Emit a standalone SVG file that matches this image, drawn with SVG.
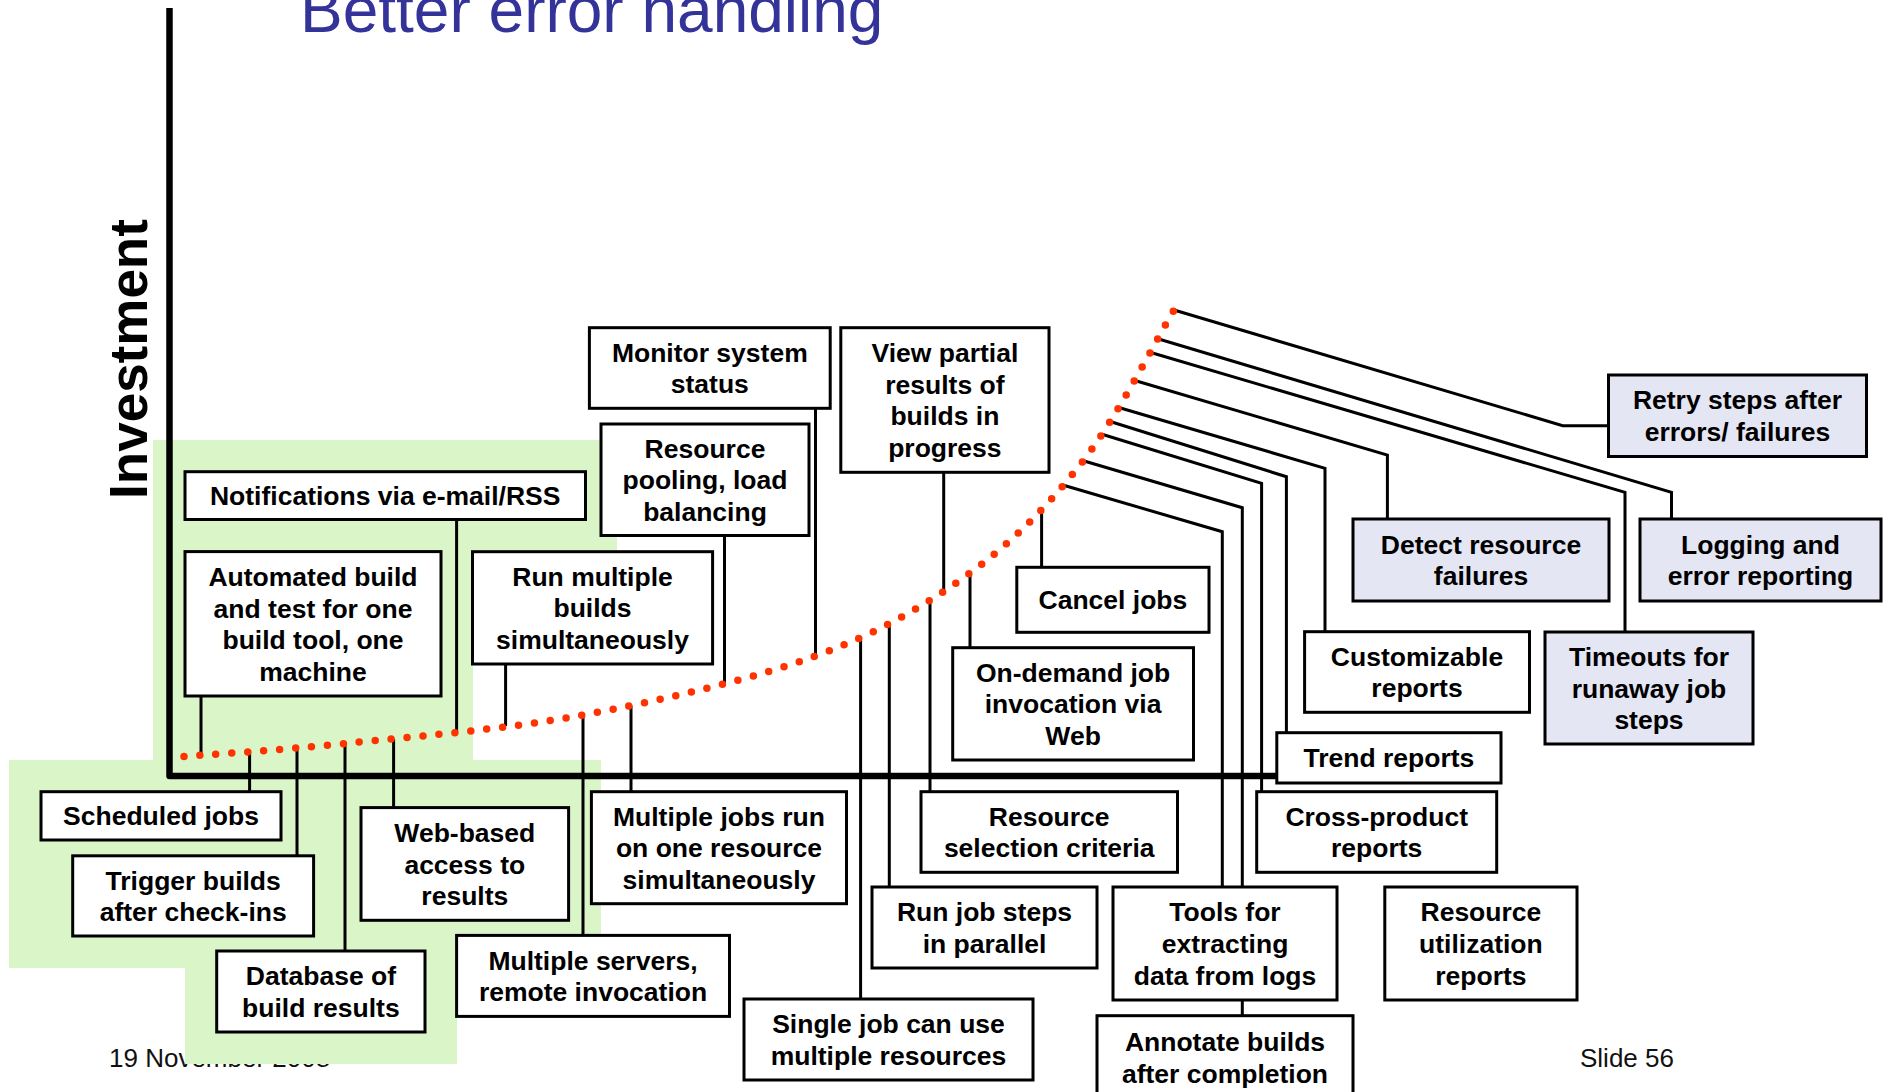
<svg xmlns="http://www.w3.org/2000/svg" width="1888" height="1092" viewBox="0 0 1888 1092">
  <style>
    .box { fill: #ffffff; stroke: #000000; stroke-width: 3; }
    .box.err { fill: #e4e6f4; }
    .lbl { font-family: "Liberation Sans", Arial, sans-serif; font-weight: bold; font-size: 26.5px; fill: #000000; text-anchor: middle; }
    .conn { fill: none; stroke: #000000; stroke-width: 3; }
    .foot { font-family: "Liberation Sans", Arial, sans-serif; font-size: 26px; fill: #111111; }
  </style>

  <rect x="0" y="0" width="1888" height="1092" fill="#ffffff"/>

  <!-- title, partly above the top edge -->
  <text x="300" y="32" font-family="'Liberation Sans', Arial, sans-serif" font-size="64" fill="#333399">Better error handling</text>

  <!-- footer date sits under the green band -->
  <text class="foot" x="109" y="1067">19 November 2008</text>
  <text class="foot" x="1580" y="1067">Slide 56</text>

  <!-- green band of basic features -->
  <path id="basic-zone" d="M153 440 H617 V551 H473 V760 H601 V968 H457 V1064 H185 V968 H9 V760 H153 Z" fill="#daf6c8"/>

  <!-- axes -->
  <path id="axes" d="M169.5 8 V776 H1280" fill="none" stroke="#000000" stroke-width="6.5" stroke-linejoin="round"/>
  <text transform="translate(146.5 359) rotate(-90)" font-family="'Liberation Sans', Arial, sans-serif" font-weight="bold" font-size="53" text-anchor="middle" fill="#000000">Investment</text>

  <!-- connectors from the curve to each feature box -->
  <g id="connectors" class="conn">
    <path d="M201 696 V755.5"/>
    <path d="M456.6 519.5 V732"/>
    <path d="M505.6 664 V726"/>
    <path d="M724.5 535.5 V684"/>
    <path d="M815.5 408.3 V656"/>
    <path d="M943.7 472.3 V592"/>
    <path d="M249.6 751 V791.7"/>
    <path d="M297 747.7 V855.8"/>
    <path d="M345 743.5 V951"/>
    <path d="M393.6 739 V807.6"/>
    <path d="M583 715 V935.4"/>
    <path d="M631 705.5 V791.7"/>
    <path d="M860.6 637 V999"/>
    <path d="M889.3 623 V887"/>
    <path d="M930 600 V791.7"/>
    <path d="M970 573 V647.7"/>
    <path d="M1041.6 510.7 V567.3"/>
    <path d="M1083.3 460.7 L1242.3 507.7 V1015.7"/>
    <path d="M1062.7 485 L1222.3 531.7 V887"/>
    <path d="M1102 434.3 L1261.6 483.3 V791.7"/>
    <path d="M1111 421.7 L1286.4 476.7 V732.7"/>
    <path d="M1119.6 407.7 L1325 468.3 V631.7"/>
    <path d="M1136.5 381 L1387.4 455 V519"/>
    <path d="M1151.6 352.7 L1625 492.3 V632"/>
    <path d="M1159.5 339.3 L1671.5 492.3 V519"/>
    <path d="M1174 310 L1562.7 425.7 H1608.5"/>
  </g>

  <!-- dotted investment curve -->
  <path id="curve" d="M184 756.5 C210.8 754.3 278.5 750.4 345 743.5 C411.5 736.6 504.6 729.6 583 715 C661.4 700.4 751 679.7 815.5 656 C880 632.3 925.4 605.6 970 573 C1014.6 540.4 1049.3 504.5 1083.3 460.7 C1117.3 416.9 1158.9 335.1 1174 310" fill="none" stroke="#ff3300" stroke-width="7.5" stroke-linecap="round" stroke-dasharray="0 16"/>

  <!-- feature boxes -->
  <g id="notifications"><rect class="box" x="185" y="471.7" width="400.5" height="47.8"/>
    <text class="lbl" x="385.2" y="505.1">Notifications via e-mail/RSS</text></g>
  <g id="automated-build"><rect class="box" x="185" y="551.6" width="256" height="144.4"/>
    <text class="lbl"><tspan x="313" y="585.8">Automated build</tspan><tspan x="313" y="617.5">and test for one</tspan><tspan x="313" y="649.2">build tool, one</tspan><tspan x="313" y="680.9">machine</tspan></text></g>
  <g id="run-multiple-builds"><rect class="box" x="472.5" y="551.7" width="240.1" height="112.3"/>
    <text class="lbl"><tspan x="592.5" y="585.7">Run multiple</tspan><tspan x="592.5" y="617.4">builds</tspan><tspan x="592.5" y="649.1">simultaneously</tspan></text></g>
  <g id="monitor-status"><rect class="box" x="589.4" y="327.7" width="240.8" height="80.6"/>
    <text class="lbl"><tspan x="709.8" y="361.7">Monitor system</tspan><tspan x="709.8" y="393.4">status</tspan></text></g>
  <g id="resource-pooling"><rect class="box" x="601" y="424" width="208" height="111.5"/>
    <text class="lbl"><tspan x="705" y="457.6">Resource</tspan><tspan x="705" y="489.3">pooling, load</tspan><tspan x="705" y="521">balancing</tspan></text></g>
  <g id="view-partial"><rect class="box" x="840.8" y="327.7" width="208.2" height="144.6"/>
    <text class="lbl"><tspan x="944.9" y="362">View partial</tspan><tspan x="944.9" y="393.7">results of</tspan><tspan x="944.9" y="425.4">builds in</tspan><tspan x="944.9" y="457.1">progress</tspan></text></g>
  <g id="cancel-jobs"><rect class="box" x="1016.8" y="567.3" width="192.2" height="65"/>
    <text class="lbl" x="1112.9" y="609.3">Cancel jobs</text></g>
  <g id="on-demand"><rect class="box" x="952.7" y="647.7" width="240.8" height="112.3"/>
    <text class="lbl"><tspan x="1073.1" y="681.7">On-demand job</tspan><tspan x="1073.1" y="713.4">invocation via</tspan><tspan x="1073.1" y="745.1">Web</tspan></text></g>
  <g id="scheduled-jobs"><rect class="box" x="41" y="791.7" width="240" height="48.3"/>
    <text class="lbl" x="161" y="825.4">Scheduled jobs</text></g>
  <g id="trigger-builds"><rect class="box" x="72.7" y="855.8" width="240.9" height="80.2"/>
    <text class="lbl"><tspan x="193.2" y="889.6">Trigger builds</tspan><tspan x="193.2" y="921.3">after check-ins</tspan></text></g>
  <g id="web-access"><rect class="box" x="361" y="807.6" width="207.6" height="112.7"/>
    <text class="lbl"><tspan x="464.8" y="841.8">Web-based</tspan><tspan x="464.8" y="873.5">access to</tspan><tspan x="464.8" y="905.2">results</tspan></text></g>
  <g id="build-database"><rect class="box" x="216.7" y="951" width="208.3" height="81"/>
    <text class="lbl"><tspan x="320.9" y="985.2">Database of</tspan><tspan x="320.9" y="1016.9">build results</tspan></text></g>
  <g id="multiple-servers"><rect class="box" x="456.6" y="935.4" width="272.9" height="81"/>
    <text class="lbl"><tspan x="593" y="969.6">Multiple servers,</tspan><tspan x="593" y="1001.3">remote invocation</tspan></text></g>
  <g id="jobs-one-resource"><rect class="box" x="591.4" y="791.7" width="255.1" height="112"/>
    <text class="lbl"><tspan x="719" y="825.5">Multiple jobs run</tspan><tspan x="719" y="857.2">on one resource</tspan><tspan x="719" y="888.9">simultaneously</tspan></text></g>
  <g id="single-job-multi-resource"><rect class="box" x="744" y="999" width="289" height="81"/>
    <text class="lbl"><tspan x="888.5" y="1033.2">Single job can use</tspan><tspan x="888.5" y="1064.9">multiple resources</tspan></text></g>
  <g id="parallel-steps"><rect class="box" x="872" y="887" width="225" height="81"/>
    <text class="lbl"><tspan x="984.5" y="921.2">Run job steps</tspan><tspan x="984.5" y="952.9">in parallel</tspan></text></g>
  <g id="resource-selection"><rect class="box" x="921" y="791.7" width="256.5" height="80.6"/>
    <text class="lbl"><tspan x="1049.2" y="825.7">Resource</tspan><tspan x="1049.2" y="857.4">selection criteria</tspan></text></g>
  <g id="log-tools"><rect class="box" x="1113" y="887" width="224" height="113"/>
    <text class="lbl"><tspan x="1225" y="921.3">Tools for</tspan><tspan x="1225" y="953">extracting</tspan><tspan x="1225" y="984.7">data from logs</tspan></text></g>
  <g id="annotate-builds"><rect class="box" x="1097" y="1015.7" width="256" height="84"/>
    <text class="lbl"><tspan x="1225" y="1051.2">Annotate builds</tspan><tspan x="1225" y="1082.9">after completion</tspan></text></g>
  <g id="cross-product"><rect class="box" x="1256.7" y="791.7" width="240" height="80.6"/>
    <text class="lbl"><tspan x="1376.7" y="825.7">Cross-product</tspan><tspan x="1376.7" y="857.4">reports</tspan></text></g>
  <g id="trend-reports"><rect class="box" x="1276.8" y="732.7" width="224.2" height="50.3"/>
    <text class="lbl" x="1388.9" y="767.4">Trend reports</text></g>
  <g id="custom-reports"><rect class="box" x="1304.6" y="631.7" width="224.9" height="80.6"/>
    <text class="lbl"><tspan x="1417" y="665.7">Customizable</tspan><tspan x="1417" y="697.4">reports</tspan></text></g>
  <g id="utilization-reports"><rect class="box" x="1384.8" y="887" width="192.2" height="113"/>
    <text class="lbl"><tspan x="1480.9" y="921.3">Resource</tspan><tspan x="1480.9" y="953">utilization</tspan><tspan x="1480.9" y="984.7">reports</tspan></text></g>

  <!-- error-handling features -->
  <g id="detect-failures"><rect class="box err" x="1353" y="519" width="256" height="82"/>
    <text class="lbl"><tspan x="1481" y="553.7">Detect resource</tspan><tspan x="1481" y="585.4">failures</tspan></text></g>
  <g id="logging"><rect class="box err" x="1640" y="519" width="241" height="82"/>
    <text class="lbl"><tspan x="1760.5" y="553.7">Logging and</tspan><tspan x="1760.5" y="585.4">error reporting</tspan></text></g>
  <g id="timeouts"><rect class="box err" x="1545" y="632" width="208" height="112"/>
    <text class="lbl"><tspan x="1649" y="665.8">Timeouts for</tspan><tspan x="1649" y="697.5">runaway job</tspan><tspan x="1649" y="729.2">steps</tspan></text></g>
  <g id="retry-steps"><rect class="box err" x="1608.5" y="375" width="258" height="81.5"/>
    <text class="lbl"><tspan x="1737.5" y="409.4">Retry steps after</tspan><tspan x="1737.5" y="441.1">errors/ failures</tspan></text></g>
</svg>
